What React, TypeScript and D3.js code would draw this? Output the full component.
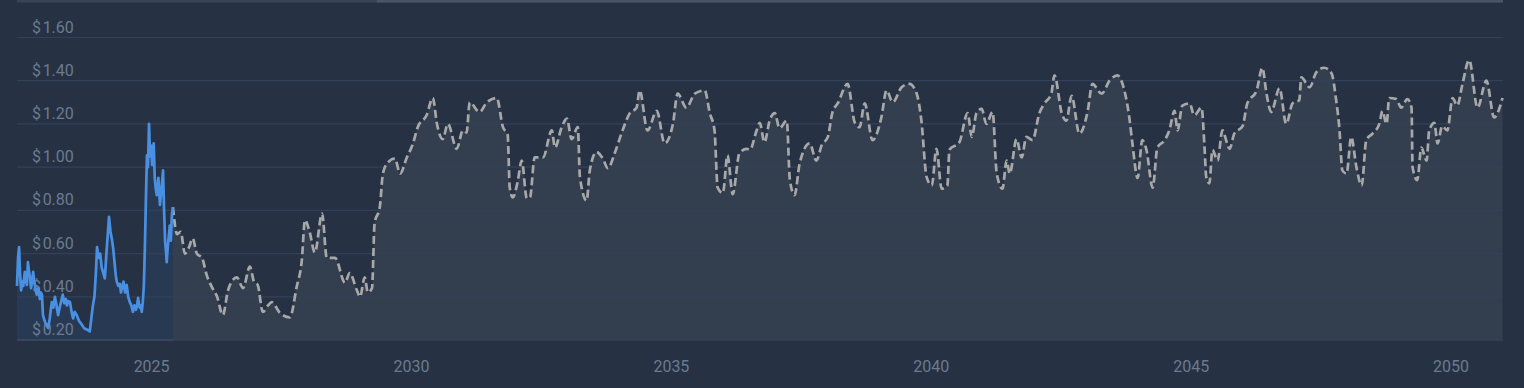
import React from 'react';
import * as d3 from 'd3';

const yTicks = [0.2, 0.4, 0.6, 0.8, 1.0, 1.2, 1.4, 1.6];
const xTickYears = [2025, 2030, 2035, 2040, 2045, 2050];

const histYears = [
  2022.41, 2022.43, 2022.45, 2022.47, 2022.49, 2022.51, 2022.53, 2022.56, 2022.58, 2022.6,
  2022.62, 2022.64, 2022.66, 2022.68, 2022.7, 2022.72, 2022.75, 2022.77, 2022.79, 2022.82,
  2022.85, 2022.87, 2022.89, 2022.91, 2022.94, 2022.97, 2023.01, 2023.04, 2023.06, 2023.08,
  2023.11, 2023.14, 2023.17, 2023.2, 2023.23, 2023.26, 2023.29, 2023.32, 2023.35, 2023.37,
  2023.4, 2023.43, 2023.46, 2023.49, 2023.52, 2023.56, 2023.6, 2023.63, 2023.66, 2023.7,
  2023.74, 2023.78, 2023.81, 2023.84, 2023.87, 2023.9, 2023.93, 2023.95, 2023.98, 2024.01,
  2024.04, 2024.07, 2024.1, 2024.13, 2024.16, 2024.18, 2024.21, 2024.24, 2024.26, 2024.29,
  2024.31, 2024.33, 2024.36, 2024.39, 2024.41, 2024.43, 2024.46, 2024.49, 2024.52, 2024.55,
  2024.58, 2024.61, 2024.64, 2024.67, 2024.7, 2024.72, 2024.74, 2024.77, 2024.79, 2024.81,
  2024.83, 2024.85, 2024.87, 2024.89, 2024.91, 2024.93, 2024.95, 2024.97, 2024.99, 2025.01,
  2025.03, 2025.04, 2025.06, 2025.08, 2025.1, 2025.13, 2025.16, 2025.19, 2025.22, 2025.24,
  2025.26, 2025.28, 2025.29, 2025.31, 2025.33, 2025.35, 2025.37, 2025.39, 2025.41,
];
const histPrices = [
  0.45, 0.58, 0.63, 0.5, 0.43, 0.47, 0.45, 0.515, 0.48, 0.455,
  0.56, 0.52, 0.49, 0.44, 0.47, 0.515, 0.46, 0.43, 0.41, 0.44,
  0.39, 0.42, 0.41, 0.315, 0.29, 0.27, 0.255, 0.3, 0.34, 0.375,
  0.35, 0.4, 0.36, 0.315, 0.35, 0.38, 0.41, 0.37, 0.39, 0.36,
  0.38, 0.375, 0.33, 0.3, 0.33, 0.315, 0.29, 0.28, 0.27, 0.255,
  0.25, 0.245, 0.24, 0.3, 0.36, 0.4, 0.52, 0.63, 0.58, 0.6,
  0.535, 0.51, 0.485, 0.6, 0.7, 0.77, 0.7, 0.66, 0.625, 0.55,
  0.5, 0.47, 0.45, 0.46, 0.42, 0.44, 0.47, 0.42, 0.455, 0.4,
  0.375, 0.36, 0.33, 0.36, 0.34, 0.36, 0.395, 0.35, 0.36, 0.33,
  0.375, 0.45, 0.625, 0.85, 1.055, 1.0, 1.2, 1.05, 1.1, 1.01,
  1.08, 1.11, 0.95, 0.9, 0.87, 0.95, 0.825, 0.9, 0.985, 0.8,
  0.655, 0.6, 0.56, 0.63, 0.68, 0.73, 0.66, 0.78, 0.815,
];

const fcYears = [
  2025.41, 2025.49, 2025.56, 2025.64, 2025.72, 2025.79, 2025.87, 2025.97, 2026.06, 2026.16,
  2026.26, 2026.37, 2026.47, 2026.54, 2026.64, 2026.76, 2026.89, 2026.97, 2027.04, 2027.14,
  2027.24, 2027.31, 2027.47, 2027.66, 2027.79, 2027.89, 2027.95, 2028.04, 2028.14, 2028.28,
  2028.37, 2028.53, 2028.72, 2028.81, 2028.95, 2029.01, 2029.1, 2029.16, 2029.24, 2029.29,
  2029.39, 2029.45, 2029.54, 2029.68, 2029.78, 2029.91, 2030.03, 2030.12, 2030.29, 2030.41,
  2030.49, 2030.6, 2030.7, 2030.87, 2030.99, 2031.06, 2031.12, 2031.31, 2031.45, 2031.64,
  2031.76, 2031.85, 2031.89, 2031.95, 2032.04, 2032.12, 2032.22, 2032.28, 2032.37, 2032.53,
  2032.7, 2032.76, 2032.89, 2032.99, 2033.08, 2033.2, 2033.24, 2033.37, 2033.43, 2033.56,
  2033.68, 2033.78, 2033.91, 2034.06, 2034.2, 2034.33, 2034.39, 2034.54, 2034.72, 2034.87,
  2035.03, 2035.12, 2035.29, 2035.45, 2035.64, 2035.74, 2035.83, 2035.89, 2035.99, 2036.08,
  2036.18, 2036.31, 2036.45, 2036.51, 2036.64, 2036.7, 2036.79, 2036.89, 2036.99, 2037.08,
  2037.22, 2037.28, 2037.37, 2037.47, 2037.66, 2037.79, 2037.89, 2038.01, 2038.1, 2038.2,
  2038.39, 2038.53, 2038.62, 2038.72, 2038.87, 2039.04, 2039.14, 2039.26, 2039.43, 2039.58,
  2039.72, 2039.81, 2039.91, 2040.01, 2040.1, 2040.2, 2040.31, 2040.35, 2040.54, 2040.7,
  2040.78, 2040.87, 2040.97, 2041.06, 2041.18, 2041.26, 2041.37, 2041.45, 2041.51, 2041.64,
  2041.74, 2041.83, 2041.95, 2042.08, 2042.18, 2042.31, 2042.37, 2042.51, 2042.6, 2042.7,
  2042.85, 2043.01, 2043.1, 2043.28, 2043.43, 2043.58, 2043.68, 2043.81, 2043.87, 2043.97,
  2044.06, 2044.14, 2044.26, 2044.35, 2044.49, 2044.58, 2044.68, 2044.74, 2044.83, 2044.97,
  2045.06, 2045.2, 2045.26, 2045.29, 2045.35, 2045.41, 2045.51, 2045.6, 2045.74, 2045.83,
  2045.99, 2046.08, 2046.26, 2046.37, 2046.45, 2046.54, 2046.7, 2046.83, 2046.95, 2047.08,
  2047.12, 2047.28, 2047.41, 2047.56, 2047.7, 2047.79, 2047.85, 2047.91, 2047.99, 2048.08,
  2048.18, 2048.28, 2048.37, 2048.49, 2048.62, 2048.68, 2048.76, 2048.81, 2048.95, 2049.04,
  2049.16, 2049.24, 2049.26, 2049.35, 2049.43, 2049.53, 2049.58, 2049.68, 2049.74, 2049.83,
  2049.93, 2050.03, 2050.12, 2050.22, 2050.35, 2050.51, 2050.68, 2050.83, 2050.99,
];
const fcPrices = [
  0.815, 0.69, 0.7, 0.6, 0.63, 0.67, 0.6, 0.58, 0.5, 0.445,
  0.4, 0.315, 0.43, 0.47, 0.49, 0.44, 0.54, 0.47, 0.455, 0.33,
  0.36, 0.375, 0.325, 0.305, 0.445, 0.57, 0.755, 0.7, 0.605, 0.785,
  0.58, 0.58, 0.465, 0.51, 0.43, 0.4, 0.49, 0.42, 0.44, 0.74,
  0.815, 0.97, 1.02, 1.04, 0.97, 1.045, 1.11, 1.185, 1.24, 1.32,
  1.2, 1.13, 1.2, 1.085, 1.17, 1.16, 1.3, 1.255, 1.3, 1.32,
  1.185, 1.15, 0.905, 0.86, 0.93, 1.03, 0.855, 0.86, 1.045, 1.045,
  1.17, 1.09, 1.185, 1.225, 1.13, 1.185, 0.955, 0.845, 0.985, 1.07,
  1.04, 0.995, 1.065, 1.17, 1.25, 1.275, 1.355, 1.17, 1.26, 1.11,
  1.2, 1.34, 1.275, 1.34, 1.355, 1.25, 1.17, 0.905, 0.88, 1.055,
  0.875, 1.065, 1.085, 1.08, 1.17, 1.205, 1.115, 1.215, 1.25, 1.18,
  1.215, 0.94, 0.87, 1.02, 1.11, 1.03, 1.1, 1.14, 1.255, 1.295,
  1.385, 1.205, 1.185, 1.295, 1.125, 1.23, 1.355, 1.3, 1.37, 1.385,
  1.34, 1.215, 0.955, 0.915, 1.085, 0.9, 0.915, 1.08, 1.115, 1.25,
  1.14, 1.25, 1.27, 1.2, 1.255, 0.97, 0.9, 1.03, 0.97, 1.13,
  1.045, 1.14, 1.125, 1.25, 1.295, 1.34, 1.425, 1.25, 1.215, 1.33,
  1.155, 1.26, 1.385, 1.34, 1.4, 1.425, 1.385, 1.23, 1.11, 0.95,
  1.125, 1.08, 0.905, 1.09, 1.125, 1.17, 1.26, 1.17, 1.285, 1.295,
  1.24, 1.275, 1.08, 0.955, 0.925, 1.08, 1.03, 1.17, 1.085, 1.155,
  1.19, 1.295, 1.355, 1.46, 1.34, 1.255, 1.365, 1.2, 1.295, 1.31,
  1.415, 1.37, 1.44, 1.46, 1.435, 1.31, 1.185, 0.985, 0.97, 1.14,
  1.0, 0.915, 1.125, 1.155, 1.2, 1.26, 1.2, 1.32, 1.315, 1.275,
  1.315, 1.275, 1.0, 0.94, 1.09, 1.03, 1.17, 1.205, 1.11, 1.19,
  1.17, 1.32, 1.285, 1.385, 1.495, 1.275, 1.4, 1.23, 1.32,
];

const W = 1524;
const H = 388;
const FONT = 'Roboto, "Noto Sans", sans-serif';

export default function App() {
  const x = d3.scaleLinear().domain([2022.41, 2051.0]).range([17, 1503]);
  const y = d3.scaleLinear().domain([0.2, 1.6]).range([340, 37.5]);

  const hist = histYears.map((t, i) => [t, histPrices[i]] as [number, number]);
  const fc = fcYears.map((t, i) => [t, fcPrices[i]] as [number, number]);

  const histLine = d3.line<[number, number]>().x(d => x(d[0])).y(d => y(d[1])).curve(d3.curveLinear);
  const histArea = d3.area<[number, number]>().x(d => x(d[0])).y0(y(0.2)).y1(d => y(d[1])).curve(d3.curveLinear);
  const fcLine = d3.line<[number, number]>().x(d => x(d[0])).y(d => y(d[1])).curve(d3.curveMonotoneX);
  const fcArea = d3.area<[number, number]>().x(d => x(d[0])).y0(y(0.2)).y1(d => y(d[1])).curve(d3.curveMonotoneX);

  const [x0, x1] = x.range();
  const histEnd = x(histYears[histYears.length - 1]);

  return (
    <svg width={W} height={H} style={{ position: 'absolute', left: 0, top: 0, display: 'block' }}>
      <rect x={0} y={0} width={W} height={H} fill="#263244" />
      <rect x={x0} y={0} width={x1 - x0} height={2.5} fill="#384357" />
      <rect x={x(2029.33)} y={0} width={x1 - x(2029.33)} height={2.5} fill="#4a5466" />
      <path d={fcArea(fc) || ''} fill="#333e4f" />
      <path d={histArea(hist) || ''} fill="#283a53" />
      {yTicks.map(v => (
        <line key={'g' + v} x1={x0} x2={x1} y1={y(v)} y2={y(v)} stroke={v === 0.2 ? '#3a4659' : '#33405a'} strokeWidth={1.2} />
      ))}
      <line x1={x0} x2={histEnd} y1={y(0.2)} y2={y(0.2)} stroke="#3a4a66" strokeWidth={1.5} />
      {yTicks.map(v => (
        <text key={'t' + v} x={32} y={y(v) - 5} fill="#6b7a8f" fontSize={16} fontFamily={FONT}>
          {'$' + '\u200A' + v.toFixed(2)}
        </text>
      ))}
      {xTickYears.map(t => (
        <text key={'x' + t} x={x(t)} y={371.5} fill="#6b7a8f" fontSize={16} fontFamily={FONT} textAnchor="middle">
          {String(t)}
        </text>
      ))}
      <path d={fcLine(fc) || ''} fill="none" stroke="#a8a8a8" strokeWidth={2.7} strokeDasharray="8,4" />
      <path d={histLine(hist) || ''} fill="none" stroke="#4a90e2" strokeWidth={2.7} strokeLinejoin="round" />
    </svg>
  );
}
